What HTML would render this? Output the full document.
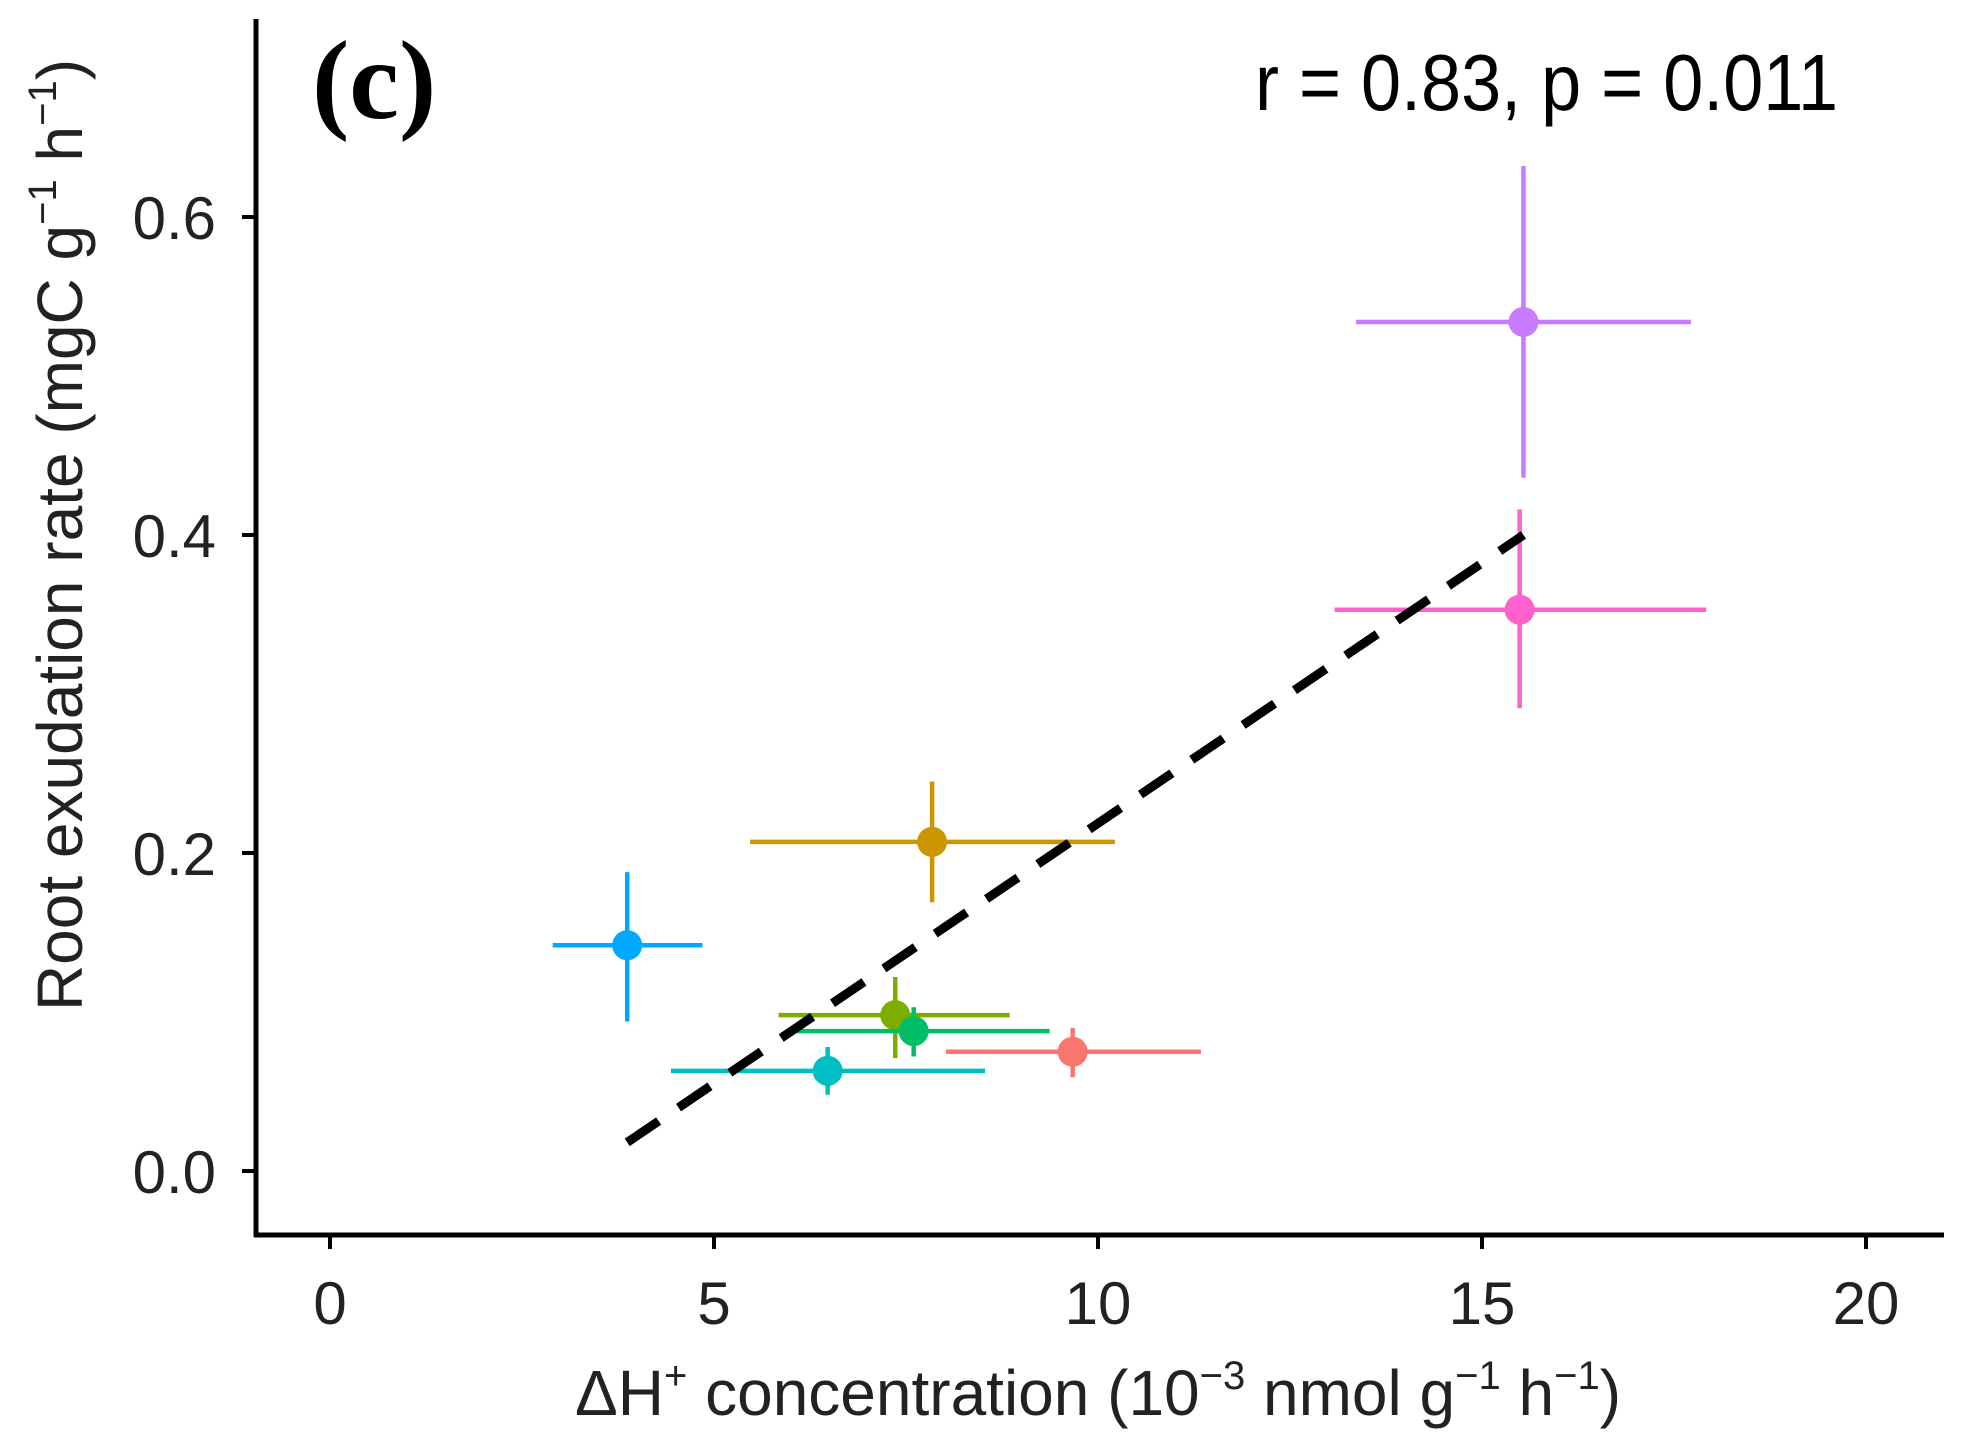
<!DOCTYPE html>
<html><head><meta charset="utf-8"><style>
body{margin:0;background:#fff}
svg{display:block;font-family:"Liberation Sans",sans-serif}
</style></head><body>
<svg id="chart" width="1961" height="1452" viewBox="0 0 1961 1452">
<text x="312" y="118" font-family="Liberation Serif" font-weight="bold" font-size="112">(c)</text>
<text x="1255" y="110" font-size="80" transform="translate(1255,0) scale(0.9,1) translate(-1255,0)">r = 0.83, p = 0.011</text>
<g id="marks"></g>
<line x1="256" y1="19" x2="256" y2="1237" stroke="#000" stroke-width="5"/>
<line x1="254" y1="1235" x2="1944" y2="1235" stroke="#000" stroke-width="5"/>
<g id="ticks"></g>
<text x="1098" y="1415" font-size="64" text-anchor="middle" fill="#222">ΔH<tspan dy="-26" font-size="40">+</tspan><tspan dy="26"> concentration (10</tspan><tspan dy="-26" font-size="40">−3</tspan><tspan dy="26"> nmol g</tspan><tspan dy="-26" font-size="40">−1</tspan><tspan dy="26"> h</tspan><tspan dy="-26" font-size="40">−1</tspan><tspan dy="26">)</tspan></text>
<text transform="translate(82,535) rotate(-90)" font-size="64" text-anchor="middle" fill="#222">Root exudation rate (mgC g<tspan dy="-26" font-size="40">−1</tspan><tspan dy="26"> h</tspan><tspan dy="-26" font-size="40">−1</tspan><tspan dy="26">)</tspan></text>
</svg>
<script>
const xVals=[15.54,15.49,7.84,3.87,7.36,7.60,9.67,6.48];
const yVals=[0.534,0.353,0.207,0.142,0.098,0.088,0.075,0.063];
const xLo=[13.36,13.08,5.47,2.90,5.84,5.99,8.02,4.44];
const xHi=[17.72,17.92,10.22,4.85,8.85,9.37,11.34,8.53];
const yLo=[0.436,0.291,0.169,0.094,0.071,0.072,0.059,0.048];
const yHi=[0.632,0.416,0.245,0.188,0.122,0.103,0.090,0.078];
const colors=["#C77CFF","#FF61CC","#CD9600","#00A9FF","#7CAE00","#00BE67","#F8766D","#00BFC4"];
const fitX=[3.87,15.54];
const fitY=[0.018,0.400];
const xTicks=[0,5,10,15,20];
const yTicks=[0.0,0.2,0.4,0.6];
const sx=v=>330+v*76.8;
const sy=v=>1171-v*1590;
const NS="http://www.w3.org/2000/svg";
const marks=document.getElementById("marks"),ticks=document.getElementById("ticks");
function mk(tag,attrs,parent){const e=document.createElementNS(NS,tag);for(const k in attrs)e.setAttribute(k,attrs[k]);parent.appendChild(e);return e;}
for(let i=0;i<xVals.length;i++){
  const g=mk("g",{},marks);
  
  
  mk("line",{x1:sx(xLo[i]),x2:sx(xHi[i]),y1:sy(yVals[i]),y2:sy(yVals[i]),stroke:colors[i],"stroke-width":4.5},g);
  mk("line",{x1:sx(xVals[i]),x2:sx(xVals[i]),y1:sy(yLo[i]),y2:sy(yHi[i]),stroke:colors[i],"stroke-width":4.5},g);
  mk("circle",{cx:sx(xVals[i]),cy:sy(yVals[i]),r:15,fill:colors[i]},g);
}
const fl=mk("line",{x1:sx(fitX[0]),y1:sy(fitY[0]),x2:sx(fitX[1]),y2:sy(fitY[1]),stroke:"#000","stroke-width":9,"stroke-dasharray":"38 24"},marks);


xTicks.forEach(v=>{
  const l=mk("line",{x1:sx(v),x2:sx(v),y1:1237,y2:1249,stroke:"#000","stroke-width":4},ticks);
  
  
  const t=mk("text",{x:sx(v),y:1324,"font-size":60,"text-anchor":"middle",fill:"#222"},ticks);
  t.textContent=v;
  
  
});
yTicks.forEach(v=>{
  const l=mk("line",{x1:242,x2:256,y1:sy(v),y2:sy(v),stroke:"#000","stroke-width":4},ticks);
  
  
  const t=mk("text",{x:216,y:sy(v)+22,"font-size":60,"text-anchor":"end",fill:"#222"},ticks);
  t.textContent=v.toFixed(1);
  
  
});
</script>
</body></html>
